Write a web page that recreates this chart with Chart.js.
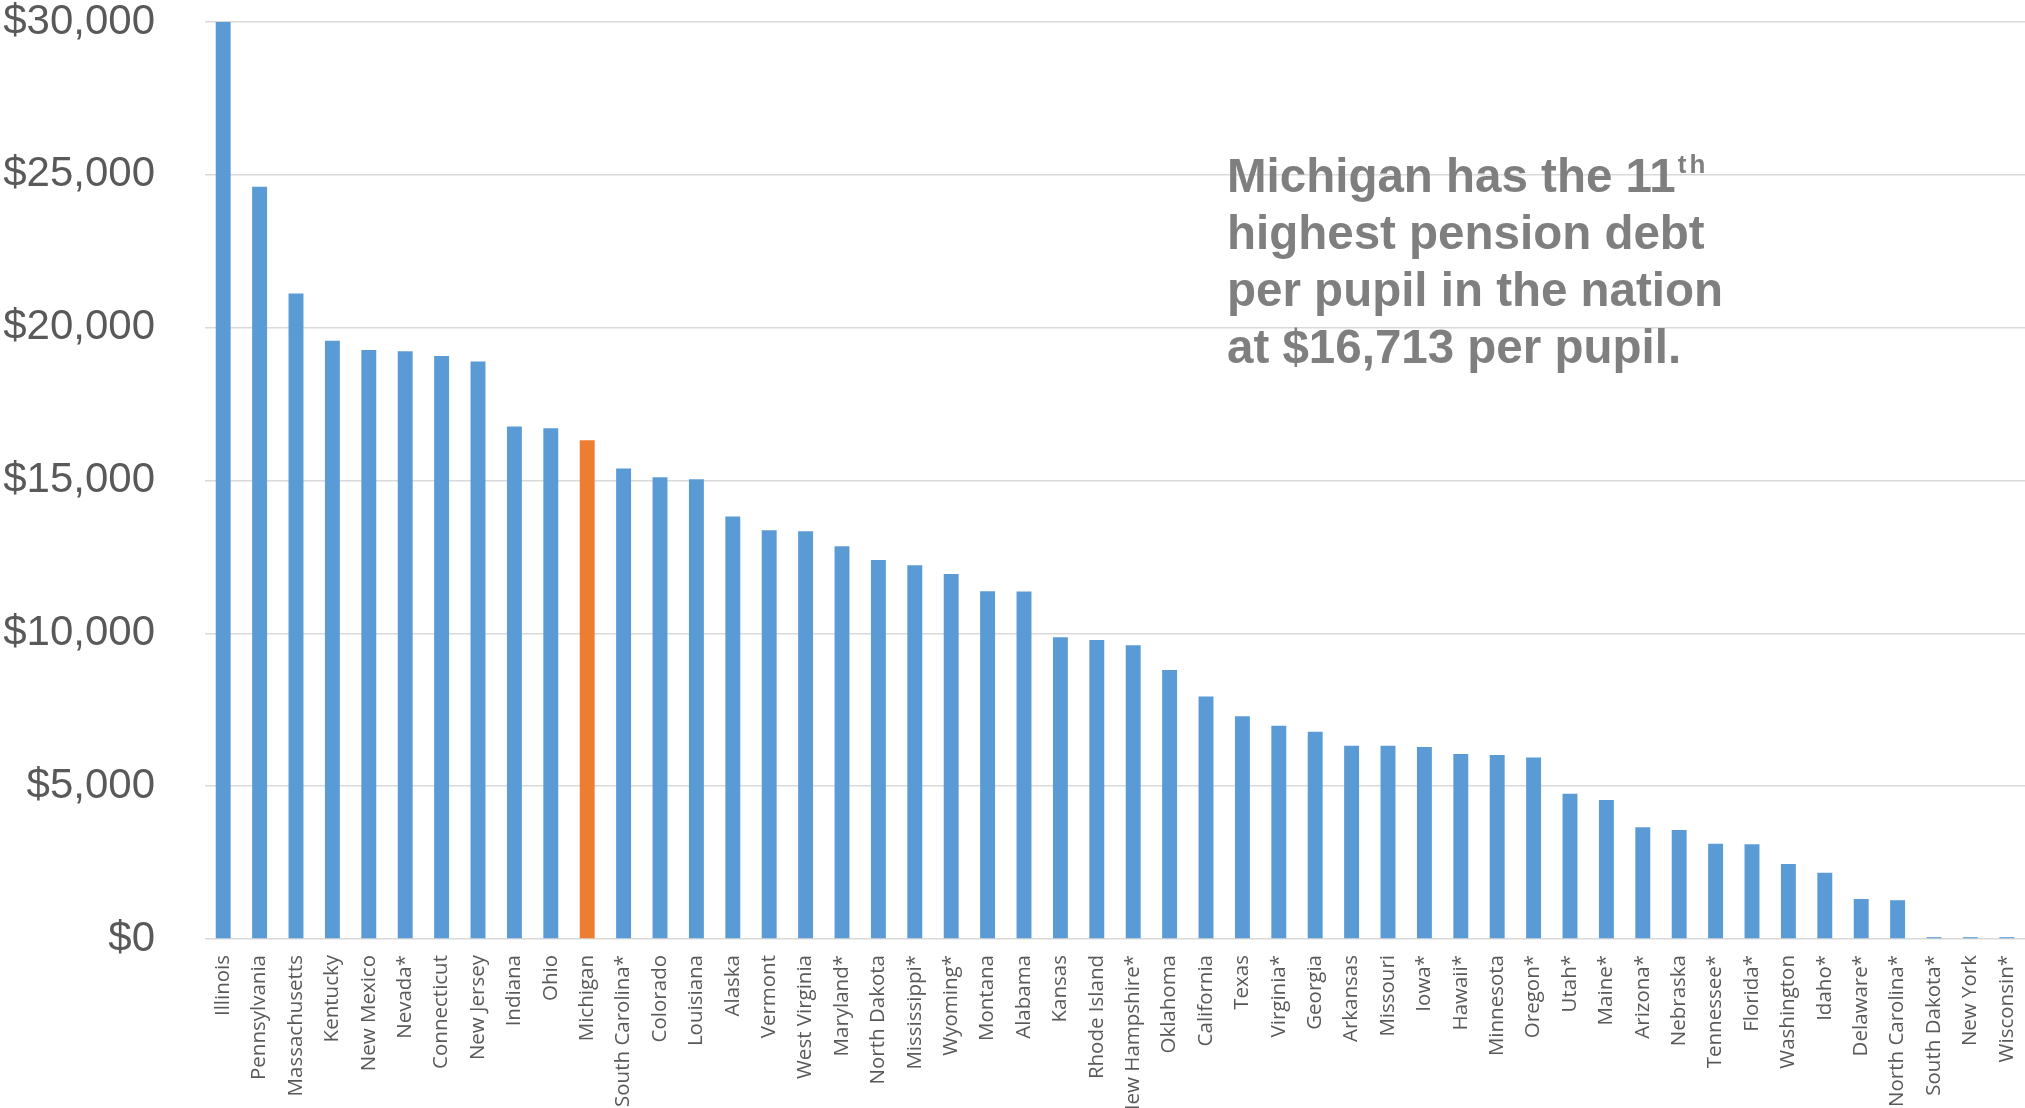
<!DOCTYPE html>
<html>
<head>
<meta charset="utf-8">
<title>Pension debt per pupil by state</title>
<script src="https://cdn.jsdelivr.net/npm/chart.js@4.4.1/dist/chart.umd.min.js"></script>
<style>
  html, body { margin: 0; padding: 0; background: #fff; overflow: hidden; }
  #wrap { position: relative; width: 2025px; height: 1108px; }
</style>
</head>
<body>
<div id="wrap"><canvas id="chart" width="2025" height="1108"></canvas></div>
<script>
/* ---- Data --------------------------------------------------------------- */
const STATES = [
  "Illinois", "Pennsylvania", "Massachusetts", "Kentucky", "New Mexico", "Nevada*",
  "Connecticut", "New Jersey", "Indiana", "Ohio", "Michigan", "South Carolina*",
  "Colorado", "Louisiana", "Alaska", "Vermont", "West Virginia", "Maryland*",
  "North Dakota", "Mississippi*", "Wyoming*", "Montana", "Alabama", "Kansas",
  "Rhode Island", "New Hampshire*", "Oklahoma", "California", "Texas", "Virginia*",
  "Georgia", "Arkansas", "Missouri", "Iowa*", "Hawaii*", "Minnesota", "Oregon*",
  "Utah*", "Maine*", "Arizona*", "Nebraska", "Tennessee*", "Florida*", "Washington",
  "Idaho*", "Delaware*", "North Carolina*", "South Dakota*", "New York", "Wisconsin*"
];
const DEBT_PER_PUPIL = [
  30000, 24610, 21120, 19570, 19270, 19230,
  19070, 18890, 16770, 16710, 16320, 15390,
  15110, 15040, 13820, 13370, 13340, 12850,
  12400, 12230, 11940, 11380, 11370, 9870,
  9780, 9610, 8800, 7930, 7290, 6980,
  6780, 6320, 6320, 6280, 6050, 6020, 5940,
  4750, 4550, 3660, 3570, 3120, 3100, 2450,
  2170, 1310, 1270, 60, 60, 60
];
const Y_MIN = 0;
const Y_MAX = 30000;
const Y_STEP = 5000;
const HIGHLIGHT = "Michigan";

const BLUE = "#5B9BD5";
const ORANGE = "#ED7D31";
const GRID = "#d9d9d9";
const TEXT = "#595959";

/* Callout text in the upper right, drawn onto the canvas */
const calloutPlugin = {
  id: "callout",
  afterDraw(chart) {
    const ctx = chart.ctx;
    const x = 1227, y0 = 192, lh = 57;
    const lines = ["Michigan has the 11", "highest pension debt", "per pupil in the nation", "at $16,713 per pupil."];
    ctx.save();
    ctx.fillStyle = "#7f7f7f";
    ctx.textAlign = "left";
    ctx.textBaseline = "alphabetic";
    ctx.font = "bold 47.5px 'Liberation Sans', Arial, sans-serif";
    lines.forEach((t, i) => ctx.fillText(t, x, y0 + i * lh));
    // superscript "th"
    const w = ctx.measureText(lines[0]).width;
    ctx.font = "bold 26px 'Liberation Sans', Arial, sans-serif";
    ctx.letterSpacing = "3px";
    ctx.fillText("th", x + w + 2, y0 - 19);
    ctx.restore();
  },
};

new Chart(document.getElementById("chart"), {
  type: "bar",
  data: {
    labels: STATES,
    datasets: [{
      data: DEBT_PER_PUPIL,
      backgroundColor: STATES.map((s) => (s === HIGHLIGHT ? ORANGE : BLUE)),
      borderWidth: 0,
      categoryPercentage: 1,
      barPercentage: 0.41,
    }],
  },
  options: {
    responsive: false,
    animation: false,
    layout: { padding: { top: 22, right: 0, bottom: 0, left: 0 } },
    plugins: { legend: { display: false }, tooltip: { enabled: false } },
    scales: {
      x: {
        grid: { display: false, drawTicks: true, tickLength: 16 },
        border: { display: false },
        ticks: {
          autoSkip: false,
          minRotation: 90,
          maxRotation: 90,
          padding: 0,
          color: TEXT,
          font: { family: "'Open Sans', sans-serif", size: 20.5 },
        },
        afterFit(scale) {
          scale.height = 169;
          scale.paddingLeft = 0;
          scale.paddingRight = 0;
        },
      },
      y: {
        min: Y_MIN,
        max: Y_MAX,
        grid: { color: GRID, lineWidth: 1.5, drawTicks: true, tickLength: 50, tickColor: "rgba(0,0,0,0)" },
        border: { display: false },
        ticks: {
          stepSize: Y_STEP,
          padding: 0,
          color: TEXT,
          font: { family: "'Liberation Sans', Arial, sans-serif", size: 42, lineHeight: 1 },
          callback: (v) => "$" + Number(v).toLocaleString("en-US"),
        },
        afterFit(scale) {
          scale.width = 205;
          scale.paddingTop = 0;
          scale.paddingBottom = 0;
        },
      },
    },
  },
  plugins: [calloutPlugin],
});
</script>
</body>
</html>
